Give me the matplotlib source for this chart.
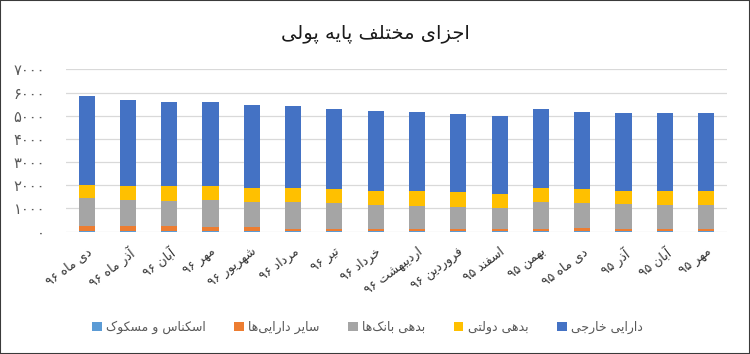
import re
import numpy as np
import matplotlib
matplotlib.use("Agg")
import matplotlib.pyplot as plt
from matplotlib.patches import Rectangle
from matplotlib.ticker import FuncFormatter

# Data
months = ["دی ماه ۹۶", "آذر ماه ۹۶", "آبان ۹۶", "مهر ۹۶", "شهریور ۹۶",
          "مرداد ۹۶", "تیر ۹۶", "خرداد ۹۶", "اردیبهشت ۹۶", "فروردین ۹۶",
          "اسفند ۹۵", "بهمن ۹۵", "دی ماه ۹۵", "آذر ۹۵", "آبان ۹۵", "مهر ۹۵"]
cash = [35, 35, 35, 40, 40, 30, 30, 30, 30, 30, 30, 40, 35, 35, 35, 35]
other_assets = [190, 190, 220, 150, 150, 80, 80, 80, 80, 80, 80, 80, 100, 90, 90, 90]
bank_debt = [1210, 1140, 1080, 1150, 1080, 1160, 1110, 1040, 1010, 970, 900, 1160, 1110, 1070, 1030, 1000]
gov_debt = [590, 615, 645, 635, 620, 620, 630, 620, 620, 605, 590, 620, 575, 575, 590, 620]
foreign = [3835, 3705, 3620, 3605, 3575, 3515, 3460, 3430, 3405, 3375, 3390, 3405, 3360, 3360, 3360, 3360]

series_names = ["اسکناس و مسکوک", "سایر دارایی‌ها", "بدهی بانک‌ها", "بدهی دولتی", "دارایی خارجی"]
series_colors = ["#5B9BD5", "#ED7D31", "#A5A5A5", "#FFC000", "#4472C4"]
title = "اجزای مختلف پایه پولی"

# Persian shaping: matplotlib has no bidi/shaping, so map letters to
# presentation forms (isolated, final, initial, medial) and reverse.
FORMS = {
    "\u0627": ("\uFE8D", "\uFE8E", None, None),
    "\u0622": ("\uFE81", "\uFE82", None, None),
    "\u0628": ("\uFE8F", "\uFE90", "\uFE91", "\uFE92"),
    "\u067E": ("\uFB56", "\uFB57", "\uFB58", "\uFB59"),
    "\u062A": ("\uFE95", "\uFE96", "\uFE97", "\uFE98"),
    "\u062C": ("\uFE9D", "\uFE9E", "\uFE9F", "\uFEA0"),
    "\u062E": ("\uFEA5", "\uFEA6", "\uFEA7", "\uFEA8"),
    "\u062F": ("\uFEA9", "\uFEAA", None, None),
    "\u0630": ("\uFEAB", "\uFEAC", None, None),
    "\u0631": ("\uFEAD", "\uFEAE", None, None),
    "\u0632": ("\uFEAF", "\uFEB0", None, None),
    "\u0633": ("\uFEB1", "\uFEB2", "\uFEB3", "\uFEB4"),
    "\u0634": ("\uFEB5", "\uFEB6", "\uFEB7", "\uFEB8"),
    "\u0641": ("\uFED1", "\uFED2", "\uFED3", "\uFED4"),
    "\u06A9": ("\uFB8E", "\uFB8F", "\uFB90", "\uFB91"),
    "\u0644": ("\uFEDD", "\uFEDE", "\uFEDF", "\uFEE0"),
    "\u0645": ("\uFEE1", "\uFEE2", "\uFEE3", "\uFEE4"),
    "\u0646": ("\uFEE5", "\uFEE6", "\uFEE7", "\uFEE8"),
    "\u0647": ("\uFEE9", "\uFEEA", "\uFEEB", "\uFEEC"),
    "\u0648": ("\uFEED", "\uFEEE", None, None),
    "\u06CC": ("\uFBFC", "\uFBFD", "\uFBFE", "\uFBFF"),
}


def fa(text):
    out = []
    for i, ch in enumerate(text):
        if ch not in FORMS:
            out.append(ch)
            continue
        prev = text[i - 1] if i > 0 else ""
        nxt = text[i + 1] if i + 1 < len(text) else ""
        iso, fin, ini, med = FORMS[ch]
        join_prev = prev in FORMS and FORMS[prev][2] is not None
        join_next = ini is not None and nxt in FORMS
        if join_prev and join_next:
            out.append(med)
        elif join_prev:
            out.append(fin)
        elif join_next:
            out.append(ini)
        else:
            out.append(iso)
    s = "".join(out).replace("\u200c", "")[::-1]
    return re.sub("[\u06F0-\u06F9]+", lambda m: m.group(0)[::-1], s)


def fa_digits(v, pos):
    return str(int(v)).translate(str.maketrans("0123456789", "۰۱۲۳۴۵۶۷۸۹"))


plt.rcParams["font.family"] = ["DejaVu Sans"]

fig = plt.figure(figsize=(7.5, 3.54), dpi=100)
ax = fig.add_axes([0.088, 0.346, 0.881, 0.458])

x = np.arange(len(months))
stack = [cash, other_assets, bank_debt, gov_debt, foreign]
bottom = np.zeros(len(months))
handles = []
for vals, name, col in zip(stack, series_names, series_colors):
    b = ax.bar(x, vals, 0.39, bottom=bottom, color=col, label=fa(name), zorder=3)
    handles.append(b)
    bottom += np.array(vals)

ax.set_xlim(-0.5, len(months) - 0.5)
ax.set_ylim(0, 7000)
ax.set_yticks(np.arange(0, 7001, 1000))
ax.yaxis.set_major_formatter(FuncFormatter(fa_digits))
ax.grid(axis="y", color="#D9D9D9", linewidth=0.9, zorder=0)
for sp in ax.spines.values():
    sp.set_visible(False)
ax.tick_params(axis="y", length=0, pad=15, labelsize=10.5, labelcolor="#595959")
ax.tick_params(axis="x", length=0, pad=10)
ax.set_xticks(x)
ax.set_xticklabels([fa(m) for m in months], rotation=37, ha="right",
                   va="top", rotation_mode="anchor", fontsize=9, color="#333333")

fig.text(0.50, 0.905, fa(title), ha="center", va="center", fontsize=14, color="#1a1a1a")

fig.legend(handles=handles, loc="center", bbox_to_anchor=(0.49, 0.075), ncol=5,
           frameon=False, fontsize=9, handlelength=0.75, handleheight=0.75,
           handletextpad=0.35, columnspacing=2.3, labelcolor="#595959")

fig.patches.append(Rectangle((0, 0), 1, 1, transform=fig.transFigure, fill=False,
                             edgecolor="#3a3a3a", linewidth=1.5))

fig.savefig("out.png", dpi=100)
